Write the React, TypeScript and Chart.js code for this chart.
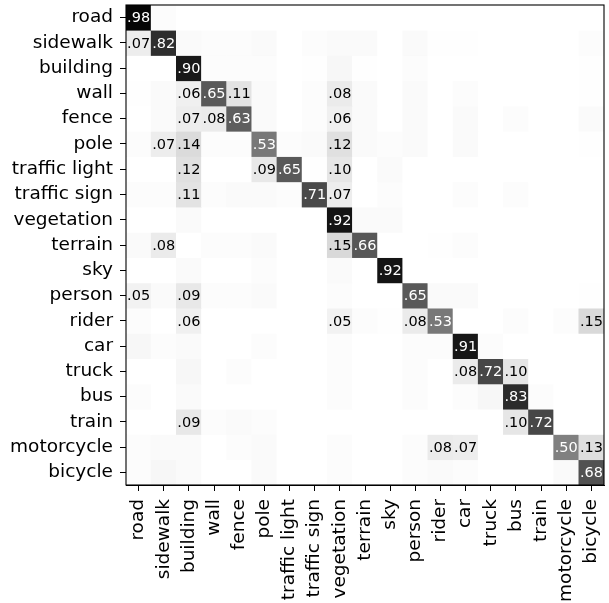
import React, { useEffect, useRef } from "react";
import { Chart, registerables } from "chart.js";

Chart.register(...registerables);

const classes = [
  "road", "sidewalk", "building", "wall", "fence", "pole", "traffic light", "traffic sign",
  "vegetation", "terrain", "sky", "person", "rider", "car", "truck", "bus", "train",
  "motorcycle", "bicycle",
];

// rows: true class, columns: predicted class
const rowRoad = [0.98, 0.01, 0, 0, 0, 0, 0, 0, 0, 0, 0, 0, 0, 0, 0, 0, 0, 0, 0];
const rowSidewalk = [0.07, 0.82, 0.02, 0.01, 0.01, 0.02, 0, 0.01, 0.02, 0.02, 0, 0.02, 0.005, 0.005, 0, 0, 0, 0, 0.01];
const rowBuilding = [0, 0, 0.9, 0.01, 0.01, 0.01, 0, 0.005, 0.03, 0.005, 0, 0.01, 0, 0, 0, 0, 0, 0, 0.005];
const rowWall = [0.005, 0.02, 0.06, 0.65, 0.11, 0.02, 0, 0.01, 0.08, 0.02, 0, 0.02, 0, 0.01, 0, 0, 0, 0, 0.005];
const rowFence = [0, 0.02, 0.07, 0.08, 0.63, 0.02, 0, 0.01, 0.06, 0.02, 0, 0.02, 0, 0.02, 0, 0.01, 0, 0, 0.02];
const rowPole = [0.01, 0.07, 0.14, 0.01, 0.01, 0.53, 0.01, 0.02, 0.12, 0.02, 0.01, 0.02, 0, 0.02, 0, 0, 0, 0, 0.005];
const rowTrafficLight = [0, 0, 0.12, 0, 0, 0.09, 0.65, 0.005, 0.1, 0, 0.02, 0, 0, 0, 0, 0, 0, 0, 0];
const rowTrafficSign = [0.01, 0.01, 0.11, 0.01, 0.02, 0.02, 0.01, 0.71, 0.07, 0, 0.01, 0, 0, 0.01, 0, 0.01, 0, 0, 0];
const rowVegetation = [0, 0, 0.02, 0, 0, 0, 0, 0, 0.92, 0.02, 0.02, 0, 0, 0, 0, 0, 0, 0, 0];
const rowTerrain = [0.02, 0.08, 0, 0.01, 0.01, 0.02, 0, 0, 0.15, 0.66, 0, 0, 0.005, 0.01, 0, 0, 0, 0, 0];
const rowSky = [0, 0, 0.02, 0, 0, 0.01, 0, 0, 0.02, 0, 0.92, 0, 0, 0, 0, 0, 0, 0, 0];
const rowPerson = [0.05, 0.02, 0.09, 0.01, 0.01, 0.02, 0, 0, 0.01, 0, 0, 0.65, 0.02, 0.02, 0, 0, 0, 0, 0.005];
const rowRider = [0.01, 0, 0.06, 0, 0, 0, 0, 0, 0.05, 0.01, 0.005, 0.08, 0.53, 0, 0, 0.01, 0, 0.01, 0.15];
const rowCar = [0.03, 0.01, 0.02, 0, 0, 0.01, 0, 0, 0.01, 0, 0, 0.01, 0.01, 0.91, 0.01, 0, 0, 0, 0];
const rowTruck = [0, 0, 0.03, 0, 0.01, 0, 0, 0, 0.01, 0, 0, 0.01, 0, 0.08, 0.72, 0.1, 0, 0, 0];
const rowBus = [0.01, 0, 0.02, 0, 0, 0, 0, 0, 0.01, 0, 0, 0.01, 0, 0.01, 0.03, 0.83, 0.01, 0, 0];
const rowTrain = [0, 0, 0.09, 0.01, 0.02, 0.01, 0, 0, 0, 0, 0, 0, 0, 0, 0, 0.1, 0.72, 0, 0];
const rowMotorcycle = [0.01, 0.02, 0.02, 0, 0.01, 0.02, 0, 0, 0.01, 0, 0, 0.01, 0.08, 0.07, 0, 0, 0, 0.5, 0.13];
const rowBicycle = [0.01, 0.03, 0.02, 0, 0, 0.02, 0, 0, 0.01, 0, 0, 0.01, 0.02, 0.01, 0, 0, 0, 0.02, 0.68];

const matrix = [
  rowRoad, rowSidewalk, rowBuilding, rowWall, rowFence, rowPole, rowTrafficLight,
  rowTrafficSign, rowVegetation, rowTerrain, rowSky, rowPerson, rowRider, rowCar,
  rowTruck, rowBus, rowTrain, rowMotorcycle, rowBicycle,
];

const grey = (v: number) => {
  const g = Math.round(255 * (1 - Math.max(0, Math.min(1, v))));
  return `rgb(${g},${g},${g})`;
};

const fmt = (v: number) => "." + Math.round(v * 100).toString().padStart(2, "0");

const FONT = "'DejaVu Sans', sans-serif";

export default function App() {
  const ref = useRef<HTMLCanvasElement | null>(null);

  useEffect(() => {
    if (!ref.current) return;

    const cellText = {
      id: "cellText",
      afterDatasetsDraw(chart: any) {
        const ctx = chart.ctx;
        const xs = chart.scales.x;
        const ys = chart.scales.y;
        ctx.save();
        ctx.font = `14.5px ${FONT}`;
        ctx.textAlign = "center";
        ctx.textBaseline = "middle";
        matrix.forEach((row, i) => {
          row.forEach((v, j) => {
            if (v < 0.05) return;
            ctx.fillStyle = v >= 0.3 ? "#ffffff" : "#000000";
            ctx.fillText(fmt(v), xs.getPixelForValue(j), ys.getPixelForValue(i) + 1);
          });
        });
        ctx.restore();
      },
    };

    const frame = {
      id: "frame",
      afterDraw(chart: any) {
        const { left, top, right, bottom } = chart.chartArea;
        const ctx = chart.ctx;
        ctx.save();
        ctx.strokeStyle = "#000";
        ctx.lineWidth = 1.1;
        ctx.strokeRect(left, top, right - left, bottom - top);
        ctx.restore();
      },
    };

    const chart = new Chart(ref.current, {
      type: "bar",
      data: {
        labels: classes,
        datasets: matrix.map((row, i) => ({
          label: classes[i],
          data: row.map(() => [i - 0.5, i + 0.5]),
          backgroundColor: row.map((v) => grey(v)),
          borderWidth: 0,
          barPercentage: 1,
          categoryPercentage: 1,
          grouped: false,
        })),
      },
      options: {
        animation: false,
        responsive: false,
        maintainAspectRatio: false,
        layout: { padding: { top: 5, right: 5, left: 0, bottom: 0 } },
        plugins: {
          legend: { display: false },
          tooltip: { enabled: false },
        },
        scales: {
          x: {
            type: "category",
            offset: true,
            afterFit: (s: any) => {
              s.height = 118;
              s.paddingLeft = 0;
              s.paddingRight = 0;
            },
            grid: {
              display: true,
              drawOnChartArea: false,
              drawTicks: true,
              tickLength: 6,
              tickColor: "#000",
              tickWidth: 1,
              offset: false,
            },
            border: { display: true, color: "#000", width: 1 },
            ticks: {
              autoSkip: false,
              minRotation: 90,
              maxRotation: 90,
              padding: 8,
              color: "#000",
              font: { family: FONT, size: 18.5 },
            },
          },
          y: {
            type: "linear",
            reverse: true,
            min: -0.5,
            max: 18.5,
            afterFit: (s: any) => {
              s.width = 126;
              s.paddingTop = 0;
              s.paddingBottom = 0;
            },
            afterBuildTicks: (s: any) => {
              s.ticks = classes.map((_, i) => ({ value: i }));
            },
            grid: {
              display: true,
              drawOnChartArea: false,
              drawTicks: true,
              tickLength: 6,
              tickColor: "#000",
              tickWidth: 1,
            },
            border: { display: true, color: "#000", width: 1 },
            ticks: {
              autoSkip: false,
              padding: 7,
              color: "#000",
              font: { family: FONT, size: 18.5 },
              callback: (value: any) => classes[Math.round(Number(value))] ?? "",
            },
          },
        },
      },
      plugins: [cellText, frame],
    } as any);

    return () => chart.destroy();
  }, []);

  return (
    <div style={{ position: "absolute", left: 0, top: 0, width: 609, height: 603, background: "#fff" }}>
      <canvas ref={ref} width={609} height={603} style={{ width: 609, height: 603 }} />
    </div>
  );
}
